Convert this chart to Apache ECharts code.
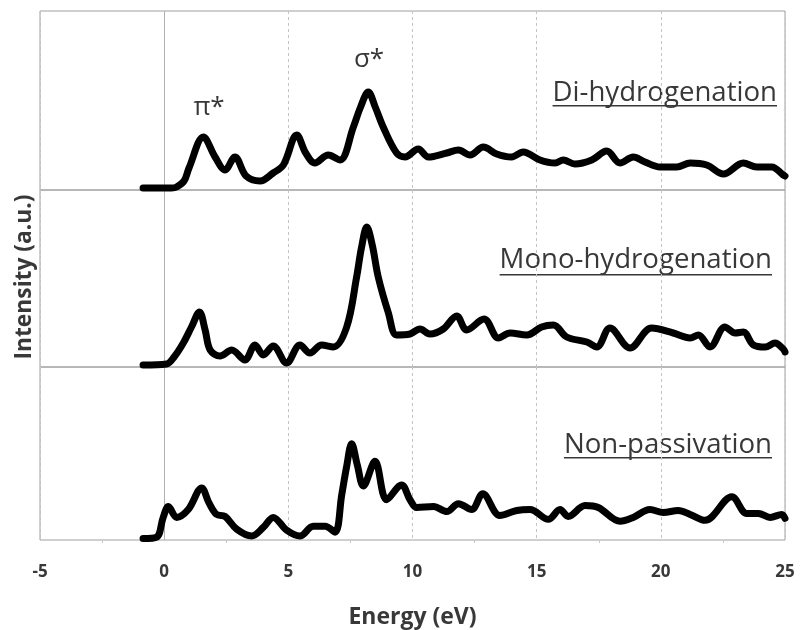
<!DOCTYPE html>
<html><head><meta charset="utf-8">
<script src="https://cdn.jsdelivr.net/npm/echarts@6/dist/echarts.min.js"></script>
<style>html,body{margin:0;padding:0;background:#fff}#c{width:801px;height:630px}</style>
</head><body><div id="c"></div>
<script>
// ---- data (energy in eV, intensity in arbitrary units) ----
const xTicks = [-5, 0, 5, 10, 15, 20, 25];
const seriesNames = ['Di-hydrogenation', 'Mono-hydrogenation', 'Non-passivation'];

const diEnergy = [-0.85, 0.3, 0.5, 0.8, 1.0, 1.58, 2.05, 2.45, 2.85, 3.3, 3.86, 4.39, 4.8, 5.34, 5.7, 6.07, 6.61, 7.08, 7.62, 7.91, 8.22, 8.5, 8.82, 9.36, 9.7, 10.23, 10.64, 11.38, 11.85, 12.32, 12.85, 13.39, 13.99, 14.46, 15.13, 15.74, 16.07, 16.54, 17.22, 17.82, 18.36, 18.89, 19.36, 19.97, 20.64, 21.18, 21.85, 22.52, 23.32, 23.86, 24.47, 24.93, 25];
const diIntensity = [2, 2, 3, 9, 22, 53, 33, 20, 33, 14, 9, 17, 25, 55, 37, 27, 35, 30, 63, 83, 98, 83, 63, 37, 33, 41, 33, 37, 40, 35, 43, 36, 33, 38, 30, 27, 30, 26, 30, 39, 27, 33, 28, 23, 23, 27, 25, 16, 27, 23, 23, 15, 14];

const monoEnergy = [-0.85, 0.1, 0.4, 0.77, 1.1, 1.42, 1.65, 1.85, 2.25, 2.72, 3.25, 3.66, 3.99, 4.39, 4.93, 5.47, 5.87, 6.34, 6.81, 7.35, 7.75, 7.95, 8.16, 8.38, 8.62, 9.03, 9.36, 9.9, 10.3, 10.7, 11.24, 11.78, 12.18, 12.88, 13.46, 13.93, 14.6, 15.2, 15.67, 16.21, 17.02, 17.42, 17.95, 18.76, 19.63, 20.5, 21.18, 21.51, 21.98, 22.58, 22.99, 23.32, 23.73, 24.2, 24.6, 24.93, 25];
const monoIntensity = [2, 3, 10, 24, 40, 55, 37, 17, 11, 17, 7, 22, 12, 21, 4, 22, 14, 22, 20, 40, 90, 120, 140, 122, 90, 54, 32, 33, 38, 33, 38, 51, 37, 48, 29, 34, 32, 40, 42, 30, 25, 20, 39, 19, 39, 34, 29, 32, 20, 40, 34, 35, 22, 20, 24, 18, 15];

const nonEnergy = [-0.85, -0.3, -0.04, 0.17, 0.5, 0.97, 1.51, 1.8, 2.11, 2.45, 2.92, 3.52, 4.0, 4.39, 4.93, 5.47, 6.0, 6.48, 6.88, 7.15, 7.35, 7.55, 7.78, 8.02, 8.49, 8.96, 9.56, 9.9, 10.17, 10.84, 11.38, 11.85, 12.38, 12.83, 13.52, 14.2, 14.73, 15.47, 15.94, 16.27, 16.95, 17.48, 18.36, 18.89, 19.56, 20.1, 20.7, 21.18, 21.78, 22.86, 23.46, 23.93, 24.4, 24.87, 25];
const nonIntensity = [1.5, 3, 23, 34, 23, 31, 53, 38, 26, 24, 11, 4, 13, 23, 10, 4, 14, 14, 8, 46, 75, 98, 76, 55, 80, 41, 56, 41, 33, 34, 29, 37, 31, 47, 25, 30, 31, 21, 31, 24, 35, 33, 19, 23, 31, 28, 30, 26, 20, 44, 27, 27, 23, 26, 22];

const peakLabels = ['π*', 'σ*'];

// ---- layout ----
const panels = [
  {top: 11, height: 179, yMax: 179},
  {top: 190, height: 177, yMax: 177},
  {top: 367, height: 176, yMax: 176}
];
const plotLeft = 40, plotRight = 16;
const txtColor = '#383838';
const fam = '"Open Sans", sans-serif';

const ctx = document.createElement('canvas').getContext('2d');
function fitSize(text, weight, target) {
  ctx.font = weight + ' 20px ' + fam;
  return Math.round(20 * target / ctx.measureText(text).width * 10) / 10;
}
const energySize = fitSize('Energy (eV)', 'bold', 128);
const intensitySize = fitSize('Intensity (a.u.)', 'bold', 165);

function zip(a, b) { return a.map((v, i) => [v, b[i]]); }
const seriesData = [zip(diEnergy, diIntensity), zip(monoEnergy, monoIntensity), zip(nonEnergy, nonIntensity)];

const grids = [], xAxes = [], yAxes = [], series = [];
panels.forEach((p, i) => {
  grids.push({left: plotLeft, right: plotRight, top: p.top, height: p.height, show: true, borderColor: '#a0a0a0', borderWidth: 1, backgroundColor: 'transparent'});
  const last = i === panels.length - 1;
  xAxes.push({
    type: 'value', gridIndex: i, min: xTicks[0], max: xTicks[xTicks.length - 1], interval: 5,
    axisLine: {show: false},
    axisTick: {show: false},
    minorTick: {show: last, splitNumber: 2, length: 3, lineStyle: {color: '#c8c8c8'}},
    axisLabel: {show: last, margin: 24, fontSize: 17, fontWeight: 'bold', color: txtColor, fontFamily: 'Open Sans'},
    splitLine: {show: true, lineStyle: {type: [3, 3], color: '#c4c4c4', width: 1}},
    name: last ? 'Energy (eV)' : '', nameLocation: 'middle', nameGap: 66,
    nameTextStyle: {fontSize: energySize, fontWeight: 'bold', color: txtColor, fontFamily: 'Open Sans'}
  });
  yAxes.push({type: 'value', gridIndex: i, min: 0, max: p.yMax, show: false});
  series.push({
    type: 'line', name: seriesNames[i], xAxisIndex: i, yAxisIndex: i,
    data: seriesData[i], smooth: 0.35, showSymbol: false, symbol: 'none',
    lineStyle: {color: '#000', width: 7, cap: 'round', join: 'round'},
    z: 5,
    markLine: {silent: true, symbol: 'none', label: {show: false}, z: 1,
      lineStyle: {color: '#b0b0b0', type: 'solid', width: 1}, data: [{xAxis: 0}]}
  });
});

// fit label font to the reference width
ctx.font = '24px ' + fam;
const labelSize = Math.round(24 * 272 / ctx.measureText(seriesNames[1]).width * 10) / 10;
ctx.font = labelSize + 'px ' + fam;
const labelPos = [{right: 777, y: 93, uy: 105}, {right: 772, y: 260, uy: 274}, {right: 772, y: 445, uy: 457}];
const graphic = [];
labelPos.forEach((lp, i) => {
  const w = ctx.measureText(seriesNames[i]).width;
  graphic.push({type: 'text', x: lp.right, y: lp.y, style: {text: seriesNames[i], align: 'right', verticalAlign: 'middle', font: labelSize + 'px ' + fam, fill: txtColor}});
  graphic.push({type: 'rect', shape: {x: lp.right - w, y: lp.uy, width: w, height: 1.5}, style: {fill: txtColor}});
});
graphic.push({type: 'text', x: 209, y: 108, style: {text: peakLabels[0], align: 'center', verticalAlign: 'middle', font: '26px ' + fam, fill: txtColor}});
graphic.push({type: 'text', x: 369, y: 60, style: {text: peakLabels[1], align: 'center', verticalAlign: 'middle', font: '26px ' + fam, fill: txtColor}});
graphic.push({type: 'text', x: 25, y: 277, rotation: Math.PI / 2, style: {text: 'Intensity (a.u.)', align: 'center', verticalAlign: 'middle', font: 'bold ' + intensitySize + 'px ' + fam, fill: txtColor}});

const chart = echarts.init(document.getElementById('c'), null, {renderer: 'canvas'});
chart.setOption({
  animation: false,
  backgroundColor: '#fff',
  grid: grids, xAxis: xAxes, yAxis: yAxes, series: series, graphic: graphic
});
</script></body></html>
